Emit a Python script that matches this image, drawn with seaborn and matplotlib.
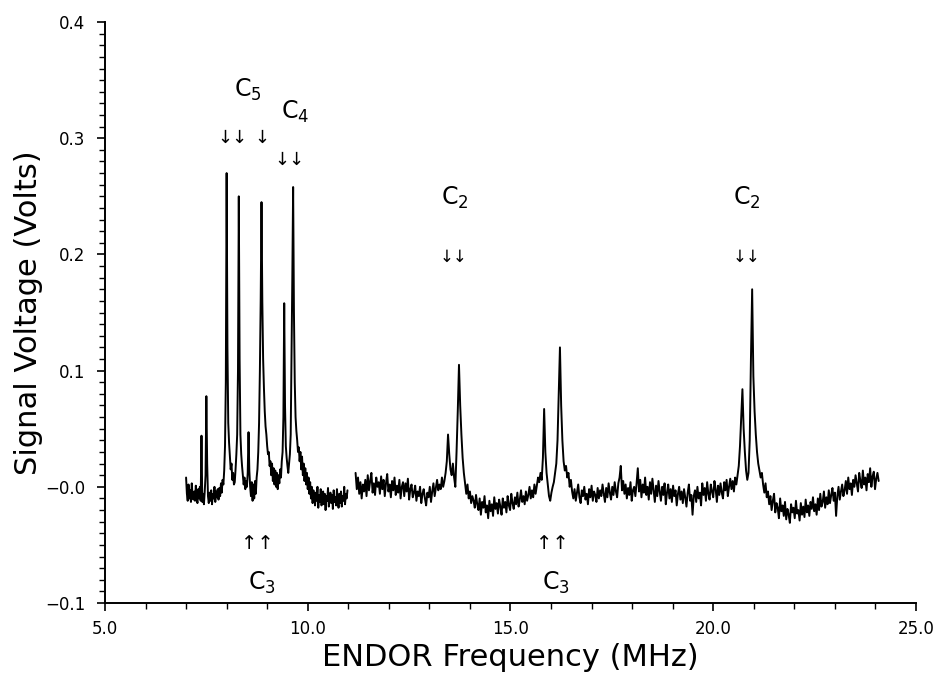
import numpy as np
import pandas as pd
import matplotlib
matplotlib.use("Agg")
import matplotlib.pyplot as plt
from matplotlib.ticker import MultipleLocator
import seaborn as sns

# ENDOR spectrum (values in mV)
# segment 1: 7.00 .. 10.98 MHz, every 0.02 MHz
seg1_start, seg1_step = 7.00, 0.02
seg1_mv = [
    8, -6, -12, 2, -10, -3, -13, 3, -8, -11,
    -4, -12, 1, -9, -14, -2, -10, 0, -12, 44,
    -13, -6, -15, -4, 10, 78, 20, -8, -14, -5,
    -12, -3, -15, -6, -10, 0, -13, -4, -9, -2,
    -11, -1, -8, 3, -5, 6, 2, 14, 35, 90,
    270, 120, 55, 38, 26, 15, 20, 6, 12, 2,
    4, 15, 28, 45, 100, 250, 110, 45, 28, 18,
    10, 2, 8, -2, 5, 0, 12, 47, 14, 0,
    -8, 4, -12, 2, -10, 5, -6, 8, 15, 30,
    55, 100, 160, 245, 160, 110, 85, 65, 52, 45,
    35, 28, 30, 18, 22, 10, 20, 5, 16, 2,
    14, 0, 12, -2, 10, 3, 15, 8, 22, 30,
    60, 158, 70, 35, 25, 18, 12, 20, 28, 45,
    110, 180, 258, 150, 90, 60, 48, 40, 30, 34,
    22, 30, 15, 26, 10, 20, 5, 16, 2, 12,
    -2, 8, -6, 4, -10, 0, -14, -3, -8, -16,
    -5, -12, 0, -18, -7, -13, -2, -16, -9, -4,
    -15, -6, -20, -8, -12, -1, -17, -10, -5, -14,
    -7, -19, -3, -13, -9, -16, -2, -11, -18, -6,
    -14, -4, -17, -8, -12, 0, -15, -6, -10, -3,
]

# segment 2: 11.18 .. 24.08 MHz, every 0.03 MHz
seg2_start, seg2_step = 11.18, 0.03
seg2_mv = [
    12, -2, 8, -6, 4, -10, 2, -4, 6, -8,
    10, -3, 5, 12, -5, 3, -7, 8, 0, 4,
    -6, 9, -2, 6, -8, 3, 11, -4, 2, -9,
    5, -3, 8, -7, 1, -5, 6, -10, 0, 4,
    -8, 3, -4, 7, -11, -2, 2, -9, -5, 1,
    -12, -4, -8, 0, -14, -6, -2, -10, -16, -5,
    -9, 0, -13, -4, 3, -8, -1, 6, -3, 2,
    -2, 8, 0, 5, 12, 22, 45, 28, 15, 10,
    20, 8, 0, 30, 65, 105, 70, 45, 25, 12,
    3, -6, 2, -10, -4, -14, -8, -12, -18, -7,
    -15, -20, -10, -24, -13, -18, -8, -22, -16, -27,
    -12, -21, -15, -25, -9, -19, -14, -23, -11, -17,
    -24, -10, -18, -13, -22, -8, -16, -20, -6, -14,
    -19, -9, -15, -5, -17, -11, -3, -13, -8, -15,
    -4, -12, -7, 0, -10, -3, -9, 2, -6, 1,
    8, 4, 12, 6, 25, 67, 30, 12, 2, -8,
    -12, -5, 0, 4, 12, 20, 40, 80, 120, 70,
    40, 22, 14, 18, 8, 12, 0, 6, -4, -10,
    -2, -12, -5, 2, -9, -14, -3, -8, 0, -11,
    -6, -15, -2, -9, 1, -12, -4, -7, -13, -1,
    -10, -3, -8, 2, -6, -13, -1, -9, 3, -5,
    -11, 0, -7, 4, -4, -9, 3, 8, 18, -3,
    5, -6, 2, -10, -1, -7, 4, -12, -3, 0,
    -8, 3, 16, -4, 6, -9, 2, -5, 8, -7,
    0, -11, 4, -6, 7, -3, -13, 1, -8, 5,
    -4, -12, 0, -7, 3, -15, -5, 2, -10, -2,
    -13, 1, -8, -3, -16, -6, 0, -11, -4, -14,
    -2, -9, -17, -5, 2, -12, -7, -24, -8, -3,
    -13, 0, -10, -5, -16, 3, -7, -1, -12, 4,
    -6, -11, 2, -4, -9, 5, -2, -13, 1, -7,
    3, -5, -10, 4, -3, 6, -8, 0, 7, -2,
    5, -4, 8, 2, 10, 18, 35, 60, 84, 50,
    30, 14, 6, 12, 40, 110, 170, 95, 65, 45,
    30, 20, 14, 8, 12, 2, -5, 3, -9, -4,
    -15, -8, -20, -12, -6, -22, -14, -18, -27, -10,
    -21, -16, -25, -13, -28, -19, -24, -31, -15, -22,
    -18, -27, -12, -23, -20, -29, -14, -24, -17, -26,
    -11, -22, -16, -25, -13, -19, -9, -21, -15, -24,
    -10, -20, -6, -17, -13, -4, -18, -9, -15, -3,
    -14, -7, -1, -12, -5, -25, -8, 0, -11, -4,
    2, -8, -3, 5, -6, 8, -2, 3, -7, 6,
    0, 10, 3, -4, 12, 5, -1, 14, 2, 8,
    -3, 11, 4, 16, 0, 9, 13, -2, 7, 12,
    5,
]

# peak labels (text, MHz, Volts)
labels = [
    ("C$_5$", 8.52, 0.342), ("C$_4$", 9.68, 0.323),
    ("C$_2$", 13.62, 0.249), ("C$_2$", 20.84, 0.249),
    ("C$_3$", 8.87, -0.083), ("C$_3$", 16.12, -0.083),
]
# arrow marks (glyphs, MHz, Volts, size)
arrows = [
    ("\u2193\u2193", 8.15, 0.300, 13), ("\u2193", 8.86, 0.300, 13),
    ("\u2193\u2193", 9.55, 0.281, 13),
    ("\u2193\u2193", 13.60, 0.198, 12), ("\u2193\u2193", 20.83, 0.198, 12),
    ("\u2191\u2191", 8.77, -0.049, 14), ("\u2191\u2191", 16.04, -0.049, 14),
]

x_ticks = [5, 10, 15, 20, 25]
x_ticklabels = ["5.0", "10.0", "15.0", "20.0", "25.0"]
y_ticks = [-0.1, 0.0, 0.1, 0.2, 0.3, 0.4]
y_ticklabels = ["\u22120.1", "\u22120.0", "0.1", "0.2", "0.3", "0.4"]

seg1 = pd.DataFrame({
    "freq": seg1_start + seg1_step * np.arange(len(seg1_mv)),
    "volt": np.array(seg1_mv) / 1000.0,
})
seg2 = pd.DataFrame({
    "freq": seg2_start + seg2_step * np.arange(len(seg2_mv)),
    "volt": np.array(seg2_mv) / 1000.0,
})

sns.set_style("ticks")
plt.rcParams["font.family"] = ["DejaVu Sans"]
plt.rcParams["mathtext.fontset"] = "dejavusans"
plt.rcParams["text.color"] = "black"
plt.rcParams["axes.labelcolor"] = "black"
plt.rcParams["xtick.color"] = "black"
plt.rcParams["ytick.color"] = "black"

fig = plt.figure(figsize=(9.34, 6.74), dpi=100)
ax = fig.add_axes([0.1124, 0.1053, 0.8683, 0.862])

for seg in (seg1, seg2):
    sns.lineplot(data=seg, x="freq", y="volt", ax=ax, color="black",
                 linewidth=1.4, estimator=None, sort=False)

for txt, x, y in labels:
    ax.text(x, y, txt, ha="center", va="center", fontsize=17, color="black")
for txt, x, y, fs in arrows:
    ax.text(x, y, txt, ha="center", va="center", fontsize=fs, color="black")

ax.set_xlim(5, 25)
ax.set_ylim(-0.1, 0.4)
ax.set_xticks(x_ticks)
ax.set_xticklabels(x_ticklabels)
ax.set_yticks(y_ticks)
ax.set_yticklabels(y_ticklabels)
ax.xaxis.set_minor_locator(MultipleLocator(1))
ax.yaxis.set_minor_locator(MultipleLocator(0.01))
ax.tick_params(which="major", length=6, width=1.2, labelsize=12, direction="out", pad=6)
ax.tick_params(which="minor", length=4, width=1.0, direction="out")
ax.tick_params(axis="y", which="major", pad=8)

ax.set_xlabel("ENDOR Frequency (MHz)", fontsize=22, labelpad=4)
ax.set_ylabel("Signal Voltage (Volts)", fontsize=22, labelpad=2)

sns.despine(ax=ax)
for s in ("left", "bottom"):
    ax.spines[s].set_linewidth(1.4)
    ax.spines[s].set_color("black")

fig.savefig("out.png", dpi=100)
